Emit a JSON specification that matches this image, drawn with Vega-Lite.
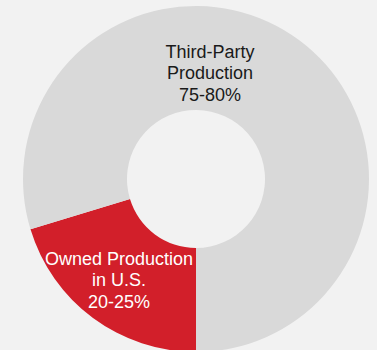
{
  "$schema": "https://vega.github.io/schema/vega-lite/v6.json",
  "width": 362,
  "height": 342,
  "autosize": {"type": "none"},
  "padding": {"left": 15, "top": 8, "right": 0, "bottom": 0},
  "background": "#f2f2f2",
  "config": {"view": {"stroke": null}, "font": "Liberation Sans"},
  "layer": [
    {
      "data": {"values": [
        {"segment": "Owned Production in U.S.", "share": 20.3, "order": 1},
        {"segment": "Third-Party Production", "share": 79.7, "order": 2}
      ]},
      "mark": {"type": "arc", "outerRadius": 173, "innerRadius": 69},
      "encoding": {
        "theta": {"field": "share", "type": "quantitative", "stack": true, "scale": {"range": [3.14159265, 9.42477796]}},
        "order": {"field": "order", "type": "quantitative"},
        "color": {
          "field": "segment", "type": "nominal", "legend": null,
          "scale": {"domain": ["Owned Production in U.S.", "Third-Party Production"], "range": ["#d21f2a", "#d9d9d9"]}
        }
      }
    },
    {
      "data": {"values": [
        {"label": ["Third-Party", "Production", "75-80%"], "angle": 6.3, "dist": 0.733, "tc": "dark"},
        {"label": ["Owned Production", "in U.S.", "20-25%"], "angle": 223.6, "dist": 0.646, "tc": "light"}
      ]},
      "mark": {"type": "text", "fontSize": 18, "lineHeight": 21.5, "align": "center", "baseline": "middle"},
      "encoding": {
        "theta": {"field": "angle", "type": "quantitative", "stack": null, "scale": {"domain": [0, 360], "range": [0, 6.28318531]}},
        "radius": {"field": "dist", "type": "quantitative", "scale": {"type": "linear", "domain": [0, 1], "range": [0, 173]}},
        "text": {"field": "label"},
        "color": {"field": "tc", "type": "nominal", "legend": null, "scale": {"domain": ["dark", "light"], "range": ["#1a1a1a", "#ffffff"]}}
      }
    }
  ],
  "resolve": {"scale": {"theta": "independent", "color": "independent"}}
}
